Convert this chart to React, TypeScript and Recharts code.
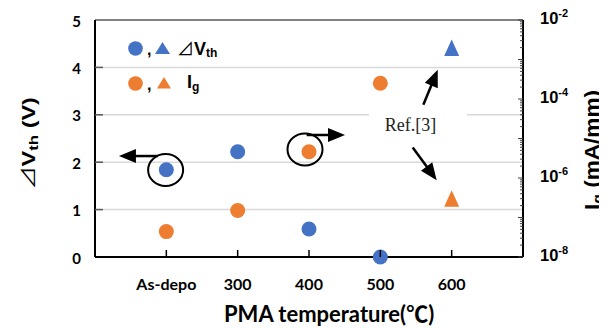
import React from 'react';
import {
  ComposedChart,
  Scatter,
  XAxis,
  YAxis,
  CartesianGrid,
  ReferenceLine,
  ReferenceDot,
  ReferenceArea,
} from 'recharts';

// ---------- data ----------
const categories = ['As-depo', '300', '400', '500', '600'];
const categoryX = [200, 300, 400, 500, 600];

// this work (circles): As-depo, 300, 400, 500
const vthWork = [1.84, 2.22, 0.59, 0];
const igWork = [4.4e-8, 1.5e-7, 4.6e-6, 2.5e-4];
// Ref.[3] (triangles): 600
const vthRef = [4.41];
const igRef = [3.0e-7];

const leftTicks = [0, 1, 2, 3, 4, 5];
const gridValues = [1, 2, 3, 4];
const baseValues = [0];
const rightMajorExp = [-8, -6, -4, -2];
const rightDecades = [-8, -7, -6, -5, -4, -3];
const rightMinorMult = [1, 2, 3, 4, 5, 6, 7, 8, 9];

// annotation anchors (data coordinates, left axis)
const ellipseAnchors = [
  { x: 199, y: 1.835 },
  { x: 394.4, y: 2.27 },
];
const arrowSegments = [
  [{ x: 188.3, y: 2.13 }, { x: 133.6, y: 2.13 }],
  [{ x: 396.8, y: 2.574 }, { x: 450.5, y: 2.574 }],
  [{ x: 560.3, y: 3.21 }, { x: 580.5, y: 3.95 }],
  [{ x: 545.4, y: 2.31 }, { x: 579.0, y: 1.62 }],
];
const refBox = { x1: 484.1, x2: 621.5, y1: 2.47, y2: 3.31 };
const refLabel = { x: 542.3, y: 2.774, text: 'Ref.[3]' };

// ---------- derived series ----------
const workX = categoryX.slice(0, 4);
const vthWorkData = workX.map((x, i) => ({ x, y: vthWork[i] }));
const igWorkData = workX.map((x, i) => ({ x, y: igWork[i] }));
const vthRefData = [{ x: categoryX[4], y: vthRef[0] }];
const igRefData = [{ x: categoryX[4], y: igRef[0] }];

const rightTicks: number[] = [];
rightDecades.forEach((d) =>
  rightMinorMult.forEach((m) => rightTicks.push(m * Math.pow(10, d)))
);
rightTicks.push(1e-2);

const BLUE = '#4472C4';
const ORANGE = '#ED7D31';
const TICK_FONT = "Lato, 'Liberation Sans', sans-serif";
const ARIAL = "'Liberation Sans', 'DejaVu Sans', 'Noto Sans CJK JP', sans-serif";
const CJK = "'Noto Sans CJK JP', 'DejaVu Sans', sans-serif";

// ---------- shapes ----------
const circleShape = (color: string) => (p: any) => (
  <circle cx={p.cx} cy={p.cy} r={7.5} fill={color} />
);
const triShape = (color: string) => (p: any) => {
  const { cx, cy } = p;
  return (
    <polygon
      points={`${cx - 7.5},${cy + 8} ${cx + 7.5},${cy + 8} ${cx},${cy - 8.5}`}
      fill={color}
    />
  );
};

const ArrowShape = (p: any) => {
  const { x1, y1, x2, y2 } = p;
  const dx = x2 - x1;
  const dy = y2 - y1;
  const len = Math.hypot(dx, dy) || 1;
  const ux = dx / len;
  const uy = dy / len;
  const hl = 17;
  const hw = 7;
  const bx = x2 - ux * hl;
  const by = y2 - uy * hl;
  const px = -uy;
  const py = ux;
  return (
    <g>
      <line x1={x1} y1={y1} x2={bx + ux} y2={by + uy} stroke="#000" strokeWidth={2.5} />
      <polygon
        points={`${x2},${y2} ${bx + px * hw},${by + py * hw} ${bx - px * hw},${by - py * hw}`}
        fill="#000"
      />
    </g>
  );
};

const EllipseShape = (p: any) => (
  <ellipse cx={p.cx} cy={p.cy} rx={17.5} ry={16} fill="none" stroke="#000" strokeWidth={2} />
);

const RefTextShape = (p: any) => (
  <text
    x={p.cx}
    y={p.cy + 5.5}
    textAnchor="middle"
    fontFamily="'Liberation Serif', serif"
    fontSize={18}
    fill="#222"
  >
    {refLabel.text}
  </text>
);

// ---------- ticks ----------
const LeftTick = (p: any) => {
  const { x, y, payload } = p;
  const v = payload.value;
  return (
    <g>
      {v > 0 && v < 5 && (
        <line x1={x} x2={x + 8} y1={y} y2={y} stroke="#595959" strokeWidth={1.5} />
      )}
      <text
        x={x - 14}
        y={y + 6.5}
        textAnchor="end"
        fontFamily={TICK_FONT}
        fontWeight={700}
        fontSize={15}
        fill="#000"
      >
        {v}
      </text>
    </g>
  );
};

const BottomTick = (p: any) => {
  const { x, y, payload } = p;
  const i = categoryX.indexOf(payload.value);
  return (
    <g>
      <line x1={x} x2={x} y1={y} y2={y - 7} stroke="#000" strokeWidth={1.5} />
      <text
        x={x}
        y={y + 33}
        textAnchor="middle"
        fontFamily={TICK_FONT}
        fontWeight={700}
        fontSize={16}
        fill="#000"
      >
        {categories[i]}
      </text>
    </g>
  );
};

const RightTick = (p: any) => {
  const { x, y, payload } = p;
  const v = payload.value;
  const e = Math.log10(v);
  const re = Math.round(e);
  const isDecade = Math.abs(e - re) < 1e-6;
  const major = isDecade && rightMajorExp.indexOf(re) >= 0;
  return (
    <g>
      <line
        x1={x - (isDecade ? 5 : 3)}
        x2={x}
        y1={y}
        y2={y}
        stroke="#404040"
        strokeWidth={1}
      />
      {major && (
        <text
          x={x + 17}
          y={y + 4}
          fontFamily={ARIAL}
          fontWeight={700}
          fontSize={16.5}
          fill="#000"
        >
          10
          <tspan fontSize={11} dy={-7}>
            {String(re)}
          </tspan>
        </text>
      )}
    </g>
  );
};

export default function App() {
  const W = 599;
  const H = 321;
  return (
    <div style={{ position: 'relative', width: W, height: H, overflow: 'hidden' }}>
      <ComposedChart
        width={W}
        height={H}
        margin={{ top: 12, right: 0, bottom: 0, left: 0 }}
      >
        <CartesianGrid
          yAxisId="left"
          vertical={false}
          horizontalValues={gridValues}
          stroke="#D9D9D9"
          strokeWidth={1.5}
        />
        <CartesianGrid
          yAxisId="left"
          vertical={false}
          horizontalValues={baseValues}
          stroke="#000"
          strokeWidth={2}
        />
        <XAxis
          dataKey="x"
          type="number"
          domain={[100, 700]}
          ticks={categoryX}
          interval={0}
          height={72}
          tickSize={0}
          tickMargin={0}
          tickLine={false}
          axisLine={false}
          tick={<BottomTick />}
        />
        <YAxis
          yAxisId="left"
          dataKey="y"
          type="number"
          domain={[0, 5]}
          ticks={leftTicks}
          interval={0}
          width={87}
          tickSize={0}
          tickMargin={0}
          tickLine={false}
          axisLine={{ stroke: '#000', strokeWidth: 2 }}
          tick={<LeftTick />}
        />
        <YAxis
          yAxisId="right"
          orientation="right"
          dataKey="y"
          type="number"
          scale="log"
          domain={[1e-8, 1e-2]}
          ticks={rightTicks}
          interval={0}
          width={84}
          tickSize={0}
          tickMargin={0}
          tickLine={false}
          axisLine={{ stroke: '#000', strokeWidth: 2 }}
          tick={<RightTick />}
        />
        <ReferenceLine yAxisId="left" y={5} stroke="#595959" strokeWidth={1.5} />
        <ReferenceArea
          yAxisId="left"
          x1={refBox.x1}
          x2={refBox.x2}
          y1={refBox.y1}
          y2={refBox.y2}
          fill="#FFFFFF"
          fillOpacity={1}
          stroke="none"
        />
        <Scatter
          yAxisId="left"
          data={vthWorkData}
          dataKey="y"
          shape={circleShape(BLUE)}
          isAnimationActive={false}
        />
        <Scatter
          yAxisId="left"
          data={vthRefData}
          dataKey="y"
          shape={triShape(BLUE)}
          isAnimationActive={false}
        />
        <Scatter
          yAxisId="right"
          data={igWorkData}
          dataKey="y"
          shape={circleShape(ORANGE)}
          isAnimationActive={false}
        />
        <Scatter
          yAxisId="right"
          data={igRefData}
          dataKey="y"
          shape={triShape(ORANGE)}
          isAnimationActive={false}
        />
        {ellipseAnchors.map((a, i) => (
          <ReferenceDot
            key={'e' + i}
            yAxisId="left"
            x={a.x}
            y={a.y}
            r={17}
            shape={EllipseShape}
          />
        ))}
        {arrowSegments.map((s, i) => (
          <ReferenceLine
            key={'a' + i}
            yAxisId="left"
            segment={s}
            shape={ArrowShape}
          />
        ))}
        <ReferenceDot
          yAxisId="left"
          x={refLabel.x}
          y={refLabel.y}
          r={1}
          shape={RefTextShape}
        />
      </ComposedChart>

      <svg
        width={W}
        height={H}
        style={{ position: 'absolute', left: 0, top: 0, pointerEvents: 'none' }}
      >
        {/* legend */}
        <circle cx={127.5} cy={40.5} r={7.3} fill={BLUE} />
        <text x={139} y={47} fontFamily={ARIAL} fontWeight={700} fontSize={16}>,</text>
        <polygon points="147,46 162,46 154.5,34" fill={BLUE} />
        <text x={169} y={47} fontFamily={ARIAL} fontWeight={700} fontSize={18} fill="#000">
          <tspan fontFamily={CJK} fontWeight={400} fontSize={17}>⊿</tspan>
          <tspan>V</tspan>
          <tspan fontSize={12} dy={2}>th</tspan>
        </text>
        <circle cx={127.5} cy={75.5} r={7.3} fill={ORANGE} />
        <text x={139} y={82} fontFamily={ARIAL} fontWeight={700} fontSize={16}>,</text>
        <polygon points="149,80.5 163,80.5 156,69" fill={ORANGE} />
        <text x={179} y={80} fontFamily={ARIAL} fontWeight={700} fontSize={18} fill="#000">
          I
          <tspan fontSize={12} dy={3}>g</tspan>
        </text>

        {/* axis titles */}
        <text
          transform="translate(27,135.5) rotate(-90) scale(1.3,1)"
          textAnchor="middle"
          fontFamily={ARIAL}
          fontWeight={700}
          fontSize={18}
          fill="#000"
        >
          <tspan fontFamily={CJK} fontWeight={400} fontSize={18}>⊿</tspan>
          <tspan>V</tspan>
          <tspan fontSize={13} dy={3}>th</tspan>
          <tspan dy={-3}> (V)</tspan>
        </text>
        <text
          transform="translate(591,142) rotate(-90) scale(1.13,1)"
          textAnchor="middle"
          fontFamily={ARIAL}
          fontWeight={700}
          fontSize={20}
          fill="#000"
        >
          I
          <tspan fontSize={14} dy={4}>g</tspan>
          <tspan dy={-4}> (mA/mm)</tspan>
        </text>
        <text
          x={216}
          y={314}
          fontFamily="Lato, 'Noto Sans CJK JP', sans-serif"
          fontWeight={700}
          fontSize={22}
          fill="#000"
        >
          PMA temperature(℃)
        </text>
      </svg>
    </div>
  );
}
